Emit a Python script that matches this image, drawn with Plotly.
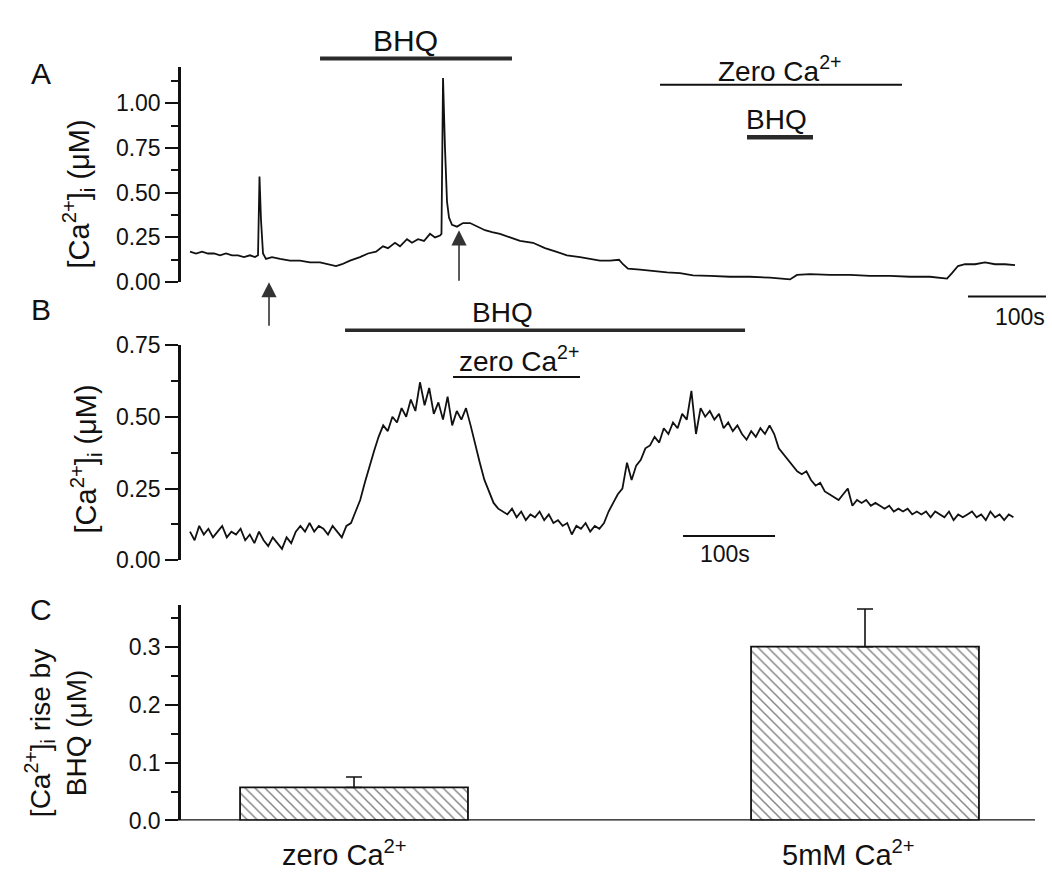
import plotly.graph_objects as go

W, H = 1052, 882
FONT = "Liberation Sans, Arial, sans-serif"
INK = "#111111"


def fx(px):
    return px / W


def fy(py):
    return 1 - py / H


# ---------------- Panel A : [Ca2+]i trace (time in s) ----------------
trace_a_time = [0, 7.7, 15.4, 23.1, 30.8, 38.5, 46.2, 53.8, 61.5, 69.2, 76.9, 83.3, 87.2,
                89.1, 91.0, 93.6, 97.4, 105.1, 115.4, 128.2, 141.0, 153.8, 166.7, 179.5,
                187.2, 194.9, 205.1, 217.9, 228.2, 238.5, 247.4, 253.8, 262.8, 269.2,
                278.2, 284.6, 292.3, 300.0, 307.7, 314.1, 320.5, 322.4, 324.4, 326.9,
                329.5, 332.1, 335.9, 342.3, 350.0, 359.0, 369.2, 378.2, 387.2, 397.4,
                410.3, 423.1, 439.7, 455.1, 469.2, 483.3, 500.0, 512.8, 525.6, 538.5,
                550.0, 555.1, 561.5, 577.0, 596.2, 611.5, 628.2, 644.9, 666.7, 692.3,
                717.9, 743.6, 769.2, 778.2, 794.9, 820.5, 846.2, 871.8, 897.4, 923.1,
                948.7, 970.5, 976.9, 984.6, 993.6, 1006.4, 1019.2, 1032.1, 1044.9, 1057.7]
trace_a_ca = [0.17, 0.16, 0.17, 0.16, 0.16, 0.15, 0.16, 0.15, 0.15, 0.14, 0.15, 0.14, 0.15,
              0.59, 0.35, 0.16, 0.13, 0.14, 0.13, 0.12, 0.12, 0.11, 0.11, 0.10,
              0.09, 0.10, 0.12, 0.14, 0.16, 0.17, 0.20, 0.19, 0.22, 0.20,
              0.24, 0.22, 0.24, 0.23, 0.27, 0.25, 0.26, 0.27, 1.14, 0.75,
              0.45, 0.36, 0.32, 0.31, 0.33, 0.33, 0.31, 0.29, 0.28, 0.27,
              0.25, 0.23, 0.22, 0.19, 0.17, 0.15, 0.14, 0.13, 0.12, 0.12,
              0.125, 0.10, 0.075, 0.07, 0.06, 0.055, 0.05, 0.038, 0.035, 0.03,
              0.03, 0.025, 0.015, 0.04, 0.045, 0.04, 0.04, 0.035, 0.035, 0.03,
              0.03, 0.02, 0.05, 0.09, 0.10, 0.10, 0.11, 0.10, 0.10, 0.095]
a_bhq_period = [166.7, 412.8]
a_zero_ca_period = [602.6, 912.8]
a_bhq2_period = [714.1, 798.7]
a_arrow_times = [101.3, 344.9]
a_arrow_values = [0.0, 0.29]
a_scalebar = [997.4, 1097.4]

# ---------------- Panel B : [Ca2+]i trace, sampled every 5 s ----------------
trace_b_start = 0
trace_b_step = 5
trace_b_ca = [
    0.10, 0.07, 0.12, 0.09, 0.11, 0.08, 0.10, 0.12, 0.08, 0.10,
    0.09, 0.11, 0.07, 0.09, 0.06, 0.10, 0.07, 0.05, 0.08, 0.06,
    0.04, 0.08, 0.06, 0.10, 0.12, 0.10, 0.13, 0.10, 0.12, 0.11,
    0.09, 0.12, 0.10, 0.08, 0.12, 0.13, 0.17, 0.21, 0.27, 0.33,
    0.38, 0.43, 0.47, 0.45, 0.50, 0.48, 0.53, 0.50, 0.56, 0.52,
    0.62, 0.54, 0.60, 0.51, 0.55, 0.49, 0.57, 0.47, 0.52, 0.49,
    0.53, 0.47, 0.40, 0.34, 0.28, 0.24, 0.20, 0.18, 0.17, 0.16,
    0.18, 0.15, 0.17, 0.14, 0.16, 0.15, 0.17, 0.14, 0.16, 0.13,
    0.14, 0.12, 0.13, 0.09, 0.12, 0.11, 0.13, 0.10, 0.12, 0.11,
    0.13, 0.17, 0.20, 0.23, 0.25, 0.34, 0.28, 0.33, 0.35, 0.39,
    0.40, 0.43, 0.41, 0.46, 0.44, 0.48, 0.46, 0.51, 0.49, 0.59,
    0.44, 0.53, 0.50, 0.52, 0.49, 0.51, 0.46, 0.48, 0.45, 0.47,
    0.44, 0.42, 0.45, 0.43, 0.46, 0.44, 0.47, 0.44, 0.39, 0.37,
    0.35, 0.33, 0.31, 0.30, 0.31, 0.28, 0.26, 0.27, 0.24, 0.23,
    0.22, 0.21, 0.23, 0.25, 0.19, 0.21, 0.20, 0.21, 0.19, 0.20,
    0.19, 0.18, 0.19, 0.17, 0.18, 0.17, 0.18, 0.16, 0.17, 0.16,
    0.17, 0.15, 0.17, 0.16, 0.15, 0.17, 0.14, 0.16, 0.15, 0.16,
    0.17, 0.15, 0.16, 0.14, 0.17, 0.15, 0.16, 0.14, 0.16, 0.15,
]
b_bhq_period = [168.5, 603.3]
b_zero_ca_period = [285.9, 423.9]
b_scalebar = [535.9, 635.9]

# ---------------- Panel C : bar chart ----------------
bar_labels = ["zero Ca<sup>2+</sup>", "5mM Ca<sup>2+</sup>"]
bar_values = [0.057, 0.30]
bar_errors = [0.018, 0.065]
bar_star_y = 0.40

fig = go.Figure()

fig.add_trace(go.Scatter(x=trace_a_time, y=trace_a_ca, mode="lines",
                         line=dict(color=INK, width=1.8), xaxis="x", yaxis="y",
                         showlegend=False))
fig.add_trace(go.Scatter(x0=trace_b_start, dx=trace_b_step, y=trace_b_ca, mode="lines",
                         line=dict(color=INK, width=1.8), xaxis="x2", yaxis="y2",
                         showlegend=False))
fig.add_trace(go.Bar(x=[0, 1], y=bar_values, width=0.446, xaxis="x3", yaxis="y3",
                     marker=dict(color="white",
                                 line=dict(color=INK, width=1.8),
                                 pattern=dict(shape="\\", fgcolor="#111111", bgcolor="white",
                                              size=7, solidity=0.22)),
                     error_y=dict(type="data", symmetric=False, array=bar_errors,
                                  arrayminus=[0, 0], color=INK, thickness=1.6, width=8),
                     showlegend=False))

yax_common = dict(showline=True, linecolor=INK, linewidth=2.5, ticks="outside",
                  ticklen=13, tickwidth=2.2, tickcolor=INK, showgrid=False,
                  zeroline=False, tickfont=dict(family=FONT, size=23, color=INK),
                  fixedrange=True)

xd = [fx(181), fx(1050)]
fig.update_layout(
    width=W, height=H,
    margin=dict(l=0, r=0, t=0, b=0),
    paper_bgcolor="white", plot_bgcolor="rgba(0,0,0,0)",
    font=dict(family=FONT, color=INK),
    xaxis=dict(domain=xd, range=[(181 - 190) / 0.78, (1050 - 190) / 0.78], visible=False,
               anchor="y"),
    yaxis=dict(domain=[fy(277.3), fy(56)], range=[0, 1.2], anchor="x",
               tickvals=[0, 0.25, 0.5, 0.75, 1.0], tickformat=".2f",
               minor=dict(ticks="outside", ticklen=7, tickwidth=2, tickcolor=INK,
                          dtick=0.125, tick0=0), **yax_common),
    xaxis2=dict(domain=xd, range=[(181 - 190) / 0.92, (1050 - 190) / 0.92], visible=False,
                anchor="y2"),
    yaxis2=dict(domain=[fy(564), fy(342)], range=[0, 0.75], anchor="x2",
                tickvals=[0, 0.25, 0.5, 0.75], tickformat=".2f",
                minor=dict(ticks="outside", ticklen=7, tickwidth=2, tickcolor=INK,
                           dtick=0.125, tick0=0), **yax_common),
    xaxis3=dict(domain=[fx(181), fx(1035)], range=[-0.3386, 1.3327], anchor="y3",
                tickvals=[0, 1], ticktext=["", ""], ticks="", showline=False,
                showgrid=False, zeroline=False, fixedrange=True),
    yaxis3=dict(domain=[fy(832), fy(610)], range=[0, 0.372], anchor="x3",
                tickvals=[0, 0.1, 0.2, 0.3], tickformat=".1f",
                minor=dict(ticks="outside", ticklen=7, tickwidth=2, tickcolor=INK,
                           dtick=0.05, tick0=0), **yax_common),
)

shapes = []


def hbar(xref, period, py, width, color=INK):
    shapes.append(dict(type="line", xref=xref, yref="paper", x0=period[0], x1=period[1],
                       y0=fy(py), y1=fy(py), line=dict(color=color, width=width)))


hbar("x", a_bhq_period, 47, 4, "#2a2a2a")
hbar("x", a_zero_ca_period, 74, 2)
hbar("x", a_bhq2_period, 128, 4.5, "#2a2a2a")
hbar("x", a_scalebar, 292, 2)
hbar("x2", b_bhq_period, 327, 3.5, "#2a2a2a")
hbar("x2", b_zero_ca_period, 375, 2)
hbar("x2", b_scalebar, 539, 2)
# x-axis baseline of panel C
shapes.append(dict(type="line", xref="paper", yref="y3", x0=fx(168), x1=fx(1035),
                   y0=0, y1=0, line=dict(color=INK, width=2.5)))
fig.update_layout(shapes=shapes)

annotations = []


def label(text, px, py, size=28, angle=0):
    annotations.append(dict(text=text, xref="paper", yref="paper", x=fx(px), y=fy(py),
                            xanchor="center", yanchor="middle", showarrow=False,
                            textangle=angle, font=dict(family=FONT, size=size, color=INK)))


label("A", 41, 62, 30)
label("B", 41, 305, 30)
label("C", 41, 615, 30)
label("BHQ", 405, 28, 30)
label("Zero Ca<sup>2+</sup>", 780, 58, 28)
label("BHQ", 776, 110, 28)
label("100s", 1020, 313, 23)
label("BHQ", 502, 309, 28)
label("zero Ca<sup>2+</sup>", 519, 356, 28)
label("100s", 725, 557, 23)
label("[Ca<sup>2+</sup>]<sub>i</sub> (μM)", 79, 187, 29, -90)
label("[Ca<sup>2+</sup>]<sub>i</sub> (μM)", 86, 460, 29, -90)
label("[Ca<sup>2+</sup>]<sub>i</sub> rise by<br>BHQ (μM)", 56, 742, 28, -90)
label(bar_labels[0], 344, 866, 29)
label(bar_labels[1], 848, 866, 29)

annotations.append(dict(text="*", xref="x3", yref="y3", x=1, y=bar_star_y, showarrow=False,
                        font=dict(family=FONT, size=34, color=INK)))

for t, v, tail in zip(a_arrow_times, a_arrow_values, [45, 52]):
    annotations.append(dict(text="", xref="x", yref="y", x=t, y=v, ax=0, ay=tail,
                            showarrow=True, arrowhead=2, arrowsize=1.9, arrowwidth=1.6,
                            arrowcolor="#333333", standoff=0))

fig.update_layout(annotations=annotations)

fig.write_html("out.html")
